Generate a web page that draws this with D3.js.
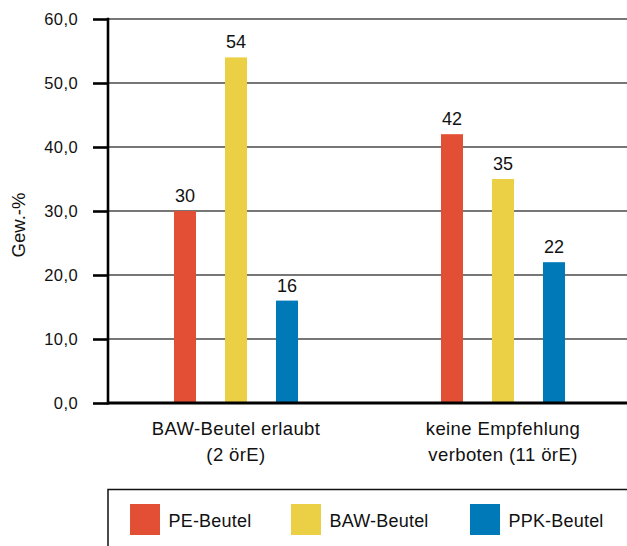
<!DOCTYPE html>
<html>
<head>
<meta charset="utf-8">
<script src="https://cdn.jsdelivr.net/npm/d3@7"></script>
<style>
  html, body { margin: 0; padding: 0; background: #fff; }
  svg { display: block; font-family: "Liberation Sans", Arial, sans-serif; }
</style>
</head>
<body>
<svg id="chart" width="627" height="546"></svg>
<script>
// Abfallzusammensetzung nach Beuteltyp (Gew.-%)
const groups = [
  ["BAW-Beutel erlaubt", "(2 örE)"],
  ["keine Empfehlung", "verboten (11 örE)"]
];
const series = ["PE-Beutel", "BAW-Beutel", "PPK-Beutel"];
const peValues = [30, 42];
const bawValues = [54, 35];
const ppkValues = [16, 22];
const yTicks = [0, 10, 20, 30, 40, 50, 60];
const colors = ["#E34F35", "#EBCF45", "#0079B8"];

const valuesBySeries = [peValues, bawValues, ppkValues];
const rows = groups.map((g, gi) => ({
  key: gi,
  label: g,
  bars: series.map((s, si) => ({ series: s, si, value: valuesBySeries[si][gi] }))
}));

const svg = d3.select("#chart");
const W = 627;
const axisX = 108;

const y = d3.scaleLinear().domain([0, 60]).range([403, 19]);

const x0 = d3.scaleBand()
  .domain(rows.map(r => r.key))
  .range([102.5, 636.5])
  .padding(0);

const x1 = d3.scaleBand()
  .domain(series)
  .range([-76.5, 76.5])
  .paddingInner(0.5686)
  .paddingOuter(0.2843);

// Gitterlinien
svg.append("g")
  .selectAll("line")
  .data(yTicks.filter(t => t > 0))
  .join("line")
  .attr("x1", axisX).attr("x2", W)
  .attr("y1", d => y(d)).attr("y2", d => y(d))
  .attr("stroke", "#4a4a4a")
  .attr("stroke-width", 1.6);

// Balken
const g = svg.append("g")
  .selectAll("g")
  .data(rows)
  .join("g")
  .attr("transform", d => `translate(${x0(d.key) + x0.bandwidth() / 2},0)`);

g.selectAll("rect")
  .data(d => d.bars)
  .join("rect")
  .attr("x", d => x1(d.series))
  .attr("width", x1.bandwidth())
  .attr("y", d => y(d.value))
  .attr("height", d => y(0) - y(d.value))
  .attr("fill", d => colors[d.si]);

g.selectAll("text.val")
  .data(d => d.bars)
  .join("text")
  .attr("class", "val")
  .attr("x", d => x1(d.series) + x1.bandwidth() / 2)
  .attr("y", d => y(d.value) - 9)
  .attr("text-anchor", "middle")
  .attr("font-size", 18)
  .attr("fill", "#111")
  .text(d => d.value);

// Y-Achse
const yAxis = d3.axisLeft(y)
  .tickValues(yTicks)
  .tickSize(15)
  .tickPadding(15)
  .tickFormat(d => d3.format(".1f")(d).replace(".", ","));

const ya = svg.append("g")
  .attr("transform", `translate(${axisX},0)`)
  .call(yAxis);
ya.select(".domain").remove();
ya.selectAll(".tick line").attr("stroke", "#000").attr("stroke-width", 2.6);
ya.selectAll(".tick text")
  .attr("font-size", 16.5)
  .attr("fill", "#111")
  .attr("font-family", "Liberation Sans, Arial, sans-serif")
  .attr("letter-spacing", 0.4);

svg.append("line")
  .attr("x1", axisX).attr("x2", axisX)
  .attr("y1", y(60) - 1.3).attr("y2", y(0) + 1.5)
  .attr("stroke", "#000").attr("stroke-width", 2.6);

// Grundlinie
svg.append("line")
  .attr("x1", axisX).attr("x2", W)
  .attr("y1", y(0)).attr("y2", y(0))
  .attr("stroke", "#000").attr("stroke-width", 3);

// Achsentitel
svg.append("text")
  .attr("transform", `translate(25,225) rotate(-90)`)
  .attr("text-anchor", "middle")
  .attr("font-size", 18.5)
  .attr("fill", "#111")
  .text("Gew.-%");

// Kategorienbeschriftung
const cat = svg.append("g")
  .selectAll("text")
  .data(rows)
  .join("text")
  .attr("text-anchor", "middle")
  .attr("font-size", 18.5)
  .attr("letter-spacing", 0.4)
  .attr("fill", "#111")
  .attr("x", d => x0(d.key) + x0.bandwidth() / 2);
cat.selectAll("tspan")
  .data(d => d.label)
  .join("tspan")
  .attr("x", function() { return this.parentNode.getAttribute("x"); })
  .attr("y", (d, i) => 434.5 + i * 26.5)
  .text(d => d);

// Legende
svg.append("rect")
  .attr("x", axisX).attr("y", 489.5)
  .attr("width", 600).attr("height", 100)
  .attr("fill", "none")
  .attr("stroke", "#111")
  .attr("stroke-width", 1.5);

const legendX = [130, 291, 470];
const lg = svg.append("g")
  .selectAll("g")
  .data(series)
  .join("g")
  .attr("transform", (d, i) => `translate(${legendX[i]},504)`);
lg.append("rect")
  .attr("width", 30).attr("height", 31)
  .attr("fill", (d, i) => colors[i]);
lg.append("text")
  .attr("x", 38.5).attr("y", 22.5)
  .attr("font-size", 18)
  .attr("letter-spacing", 0.2)
  .attr("fill", "#111")
  .text(d => d);
</script>
</body>
</html>
